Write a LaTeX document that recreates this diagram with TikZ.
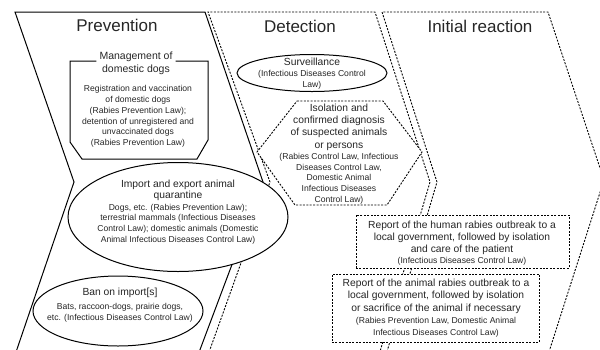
\documentclass[tikz,border=0pt]{standalone}
\usepackage{fontspec}
\setmainfont{Liberation Sans}
\usetikzlibrary{shapes.geometric}
\definecolor{txt}{gray}{0.15}
\tikzset{
  ttl/.style={font=\fontsize{17}{20}\selectfont, text=txt, inner sep=0pt},
  head/.style={font=\fontsize{10.3}{12.3}\selectfont, align=center, text=txt, inner sep=0pt},
  body/.style={font=\fontsize{8.6}{10.7}\selectfont, align=center, text=txt, inner sep=0pt},
  sol/.style={line width=1pt, line join=miter},
  dsh/.style={dash pattern=on 2pt off 1.4pt, line width=0.9pt},
  oval/.style={ellipse, draw, sol, fill=white, inner sep=0pt},
  dbox/.style={rectangle, draw, dsh, fill=white, inner sep=0pt},
}
\begin{document}
\begin{tikzpicture}[x=1pt,y=-1pt]
\useasboundingbox (0,0) rectangle (600,349);
\begin{scope}
\clip (0,0) rectangle (600,349);
% stage chevrons
\draw[sol] (15,355) -- (74,182) -- (15,12) -- (205,12) -- (263,182) -- (198,355);
\draw[dsh] (208,355) -- (270,182) -- (208,12) -- (375,12) -- (430,182) -- (379,355);
\draw[dsh] (386,355) -- (437,182) -- (382,12) -- (548,12) -- (604,180) -- (548,355);
\end{scope}

% titles
\node[ttl] (tp) at (117,25) {Prevention};
\node[ttl] (td) at (300,26) {Detection};
\node[ttl] (ti) at (480,26) {Initial reaction};

% management of domestic dogs
\node[head, font=\fontsize{10.5}{13}\selectfont] (mh) at (136,63.5) {Management of\\domestic dogs};
\draw[sol] (mh.west |- 0,61) ++(-3,0) -- (70,61) -- (70,142) -- (82,159) -- (197,159) -- (208,140) -- (208,61) -- ([xshift=3pt]mh.east |- 0,61);
\node[body] (mb) at (138,116.5) {Registration and vaccination\\of domestic dogs\\(Rabies Prevention Law);\\detention of unregistered and\\unvaccinated dogs\\(Rabies Prevention Law)};

% surveillance
\node[oval, minimum width=150pt, minimum height=37pt] (sv) at (312,73) {};
\node[head] (svh) at (312,62) {Surveillance};
\node[body] (svb) at (312,80) {(Infectious Diseases Control\\Law)};

% isolation hexagon
\draw[dsh, fill=white] (297,101) -- (383,101) -- (422,152) -- (387,205) -- (295,205) -- (257,152) -- cycle;
\node[head] (hxh) at (339,127) {Isolation and\\confirmed diagnosis\\of suspected animals\\or persons};
\node[body] (hxb) at (339,178.5) {(Rabies Control Law, Infectious\\Diseases Control Law,\\Domestic Animal\\Infectious Diseases\\Control Law)};

% import export
\node[oval, minimum width=220pt, minimum height=109pt] (ie) at (178,217) {};
\node[head, font=\fontsize{10.3}{11.5}\selectfont] (ieh) at (178,190.5) {Import and export animal\\quarantine};
\node[body] (ieb) at (178,224) {Dogs, etc. (Rabies Prevention Law);\\terrestrial mammals (Infectious Diseases\\Control Law); domestic animals (Domestic\\Animal Infectious Diseases Control Law)};

% ban on imports
\node[oval, minimum width=170pt, minimum height=70pt] (bn) at (118,311) {};
\node[head] (bnh) at (120,293) {Ban on import[s]};
\node[body] (bnb) at (120,312.5) {Bats, raccoon-dogs, prairie dogs,\\etc. (Infectious Diseases Control Law)};

% report boxes
\node[dbox, minimum width=213pt, minimum height=53pt] (hr) at (462.5,241.5) {};
\node[head, font=\fontsize{10.3}{12}\selectfont] (hrh) at (462,238) {Report of the human rabies outbreak to a\\local government, followed by isolation\\and care of the patient};
\node[body] (hrb) at (462,261) {(Infectious Diseases Control Law)};

\node[dbox, minimum width=207pt, minimum height=68pt] (ar) at (435.5,308) {};
\node[head, font=\fontsize{10.3}{12.5}\selectfont] (arh) at (436,296) {Report of the animal rabies outbreak to a\\local government, followed by isolation\\or sacrifice of the animal if necessary};
\node[body, font=\fontsize{8.6}{12}\selectfont] (arb) at (436,327) {(Rabies Prevention Law, Domestic Animal\\Infectious Diseases Control Law)};
\end{tikzpicture}
\end{document}
